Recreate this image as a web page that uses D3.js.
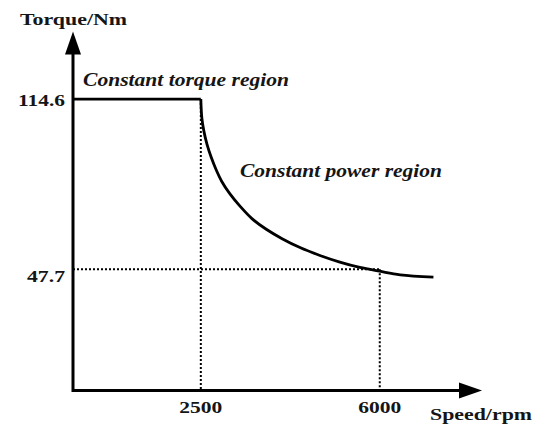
<!DOCTYPE html>
<html>
<head>
<meta charset="utf-8">
<script src="https://cdn.jsdelivr.net/npm/d3@7"></script>
<style>
  body { margin: 0; background: #fff; }
  text { font-family: "Liberation Serif", "Times New Roman", serif; font-weight: bold; fill: #151515; }
</style>
</head>
<body>
<div id="chart"></div>
<script>
// torque-speed curve of the motor

// constant power part
const speed = [2500, 2520, 2560, 2620, 2700, 2800, 2910, 3070, 3270, 3500, 3780, 4090, 4440, 4830, 5220, 5610, 6000, 6400, 7050];
const torque = [114.6, 107.2, 102.0, 96.9, 91.9, 86.8, 82.2, 77.3, 72.4, 67.6, 63.4, 59.7, 56.2, 53.1, 50.5, 48.4, 46.9, 45.5, 44.6];

const baseSpeed = 2500;
const maxTorque = 114.6;
const markSpeed = 6000;
const markTorque = 47.7;

const xTicks = [2500, 6000];
const yTicks = [114.6, 47.7];

const width = 533;
const height = 426;

const x = d3.scaleLinear().domain([0, 8000]).range([73, 482]);
const y = d3.scaleLinear().domain([0, 140]).range([390.5, 34.5]);

const svg = d3.select('#chart')
    .append('svg')
    .attr('width', width)
    .attr('height', height);

// dotted guide lines
const guides = svg.append('g')
    .attr('stroke', '#000')
    .attr('stroke-width', 2)
    .attr('stroke-dasharray', '2,2')
    .attr('fill', 'none');

guides.append('line')
    .attr('x1', x(baseSpeed)).attr('x2', x(baseSpeed))
    .attr('y1', y(maxTorque)).attr('y2', y(0));
guides.append('line')
    .attr('x1', x(markSpeed)).attr('x2', x(markSpeed))
    .attr('y1', y(markTorque)).attr('y2', y(0));
guides.append('line')
    .attr('x1', x(0)).attr('x2', x(markSpeed))
    .attr('y1', y(markTorque)).attr('y2', y(markTorque));

// constant torque + constant power curve
const points = [[0, maxTorque]].concat(speed.map((s, i) => [s, torque[i]]));

svg.append('path')
    .datum(points.slice(1))
    .attr('fill', 'none')
    .attr('stroke', '#000')
    .attr('stroke-width', 2.8)
    .attr('d', d3.line().x(d => x(d[0])).y(d => y(d[1])).curve(d3.curveCatmullRom.alpha(0.5)));

svg.append('path')
    .datum(points.slice(0, 2))
    .attr('fill', 'none')
    .attr('stroke', '#000')
    .attr('stroke-width', 2.8)
    .attr('d', d3.line().x(d => x(d[0])).y(d => y(d[1])));

// axes with arrow heads
const axes = svg.append('g');
axes.append('line')
    .attr('x1', x(0)).attr('x2', x.range()[1] - 10)
    .attr('y1', y(0)).attr('y2', y(0))
    .attr('stroke', '#000').attr('stroke-width', 3);
axes.append('line')
    .attr('x1', x(0)).attr('x2', x(0))
    .attr('y1', y(0) + 1.5).attr('y2', y.range()[1] + 10)
    .attr('stroke', '#000').attr('stroke-width', 3);

const xEnd = x.range()[1];
const yEnd = y.range()[1];
axes.append('path')
    .attr('d', `M${xEnd},${y(0)} L${xEnd - 23},${y(0) - 8} L${xEnd - 23},${y(0) + 8} Z`)
    .attr('fill', '#000');
axes.append('path')
    .attr('d', `M${x(0)},${yEnd - 3} L${x(0) - 8},${yEnd + 20} L${x(0) + 8},${yEnd + 20} Z`)
    .attr('fill', '#000');

// tick labels
svg.append('g')
    .selectAll('text')
    .data(xTicks)
    .enter()
    .append('text')
    .attr('x', d => x(d))
    .attr('y', 413)
    .attr('text-anchor', 'middle')
    .attr('font-size', 17)
    .attr('textLength', 43)
    .attr('lengthAdjust', 'spacingAndGlyphs')
    .text(d => d);

svg.append('g')
    .selectAll('text')
    .data(yTicks)
    .enter()
    .append('text')
    .attr('x', 65)
    .attr('y', d => y(d) + (d === markTorque ? 13 : 7))
    .attr('text-anchor', 'end')
    .attr('font-size', 17)
    .attr('textLength', d => d === markTorque ? 38 : 47)
    .attr('lengthAdjust', 'spacingAndGlyphs')
    .text(d => d);

// axis titles
svg.append('text')
    .attr('x', 20).attr('y', 25)
    .attr('font-size', 17)
    .attr('textLength', 107)
    .attr('lengthAdjust', 'spacingAndGlyphs')
    .text('Torque/Nm');

svg.append('text')
    .attr('x', 430).attr('y', 420)
    .attr('font-size', 17)
    .attr('textLength', 102)
    .attr('lengthAdjust', 'spacingAndGlyphs')
    .text('Speed/rpm');

// region notes
svg.append('text')
    .attr('x', 83).attr('y', 86)
    .attr('font-size', 18)
    .attr('font-style', 'italic')
    .attr('textLength', 206)
    .attr('lengthAdjust', 'spacingAndGlyphs')
    .text('Constant torque region');

svg.append('text')
    .attr('x', 240).attr('y', 177)
    .attr('font-size', 18)
    .attr('font-style', 'italic')
    .attr('textLength', 202)
    .attr('lengthAdjust', 'spacingAndGlyphs')
    .text('Constant power region');
</script>
</body>
</html>
